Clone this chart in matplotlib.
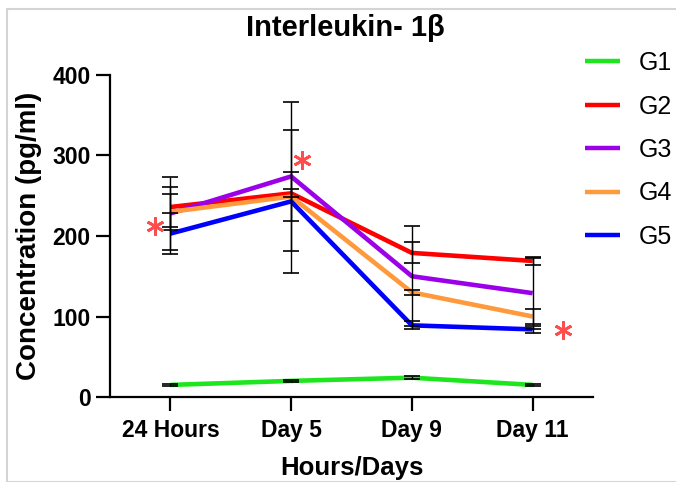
import matplotlib
matplotlib.use("Agg")
import matplotlib.pyplot as plt
from matplotlib.patches import Rectangle

plt.rcParams['font.family'] = ['Liberation Sans', 'DejaVu Sans']

# data
times = ["24 Hours", "Day 5", "Day 9", "Day 11"]
groups = ["G1", "G2", "G3", "G4", "G5"]
colors = ["#1ee61e", "#ff0000", "#9b00e8", "#ff9a3c", "#0000ff"]

g1 = [15, 20, 24, 15]
g2 = [236, 253, 179, 169]
g3 = [228, 274, 150, 129]
g4 = [230, 249, 130, 100]
g5 = [203, 243, 89, 84]

g1_err = [1.5, 1.5, 2, 1.5]
g2_err = [25, 5, 13, 5]
g3_err = [45, 93, 62, 44]
g4_err = [22, 30, 3, 9]
g5_err = [25, 89, 5, 4]

# significance asterisks (x in category units, y in pg/ml)
sig_x = [-0.13, 1.09, 3.25]
sig_y = [212, 294, 83]

means = [g1, g2, g3, g4, g5]
errs = [g1_err, g2_err, g3_err, g4_err, g5_err]

fig = plt.figure(figsize=(6.76, 4.82), dpi=100)
ax = fig.add_axes([110/676, 85/482, 483/676, 322/482])

x = list(range(len(times)))
for name, c, m, e in zip(groups, colors, means, errs):
    ax.plot(x, m, color=c, lw=3.3, label=name, zorder=2, solid_capstyle='butt')
    ax.errorbar(x, m, yerr=e, fmt='none', ecolor='black', elinewidth=1.0,
                capsize=6, capthick=1.2, zorder=3)

ax.plot(sig_x, sig_y, ls='none', marker=(6, 2, 0), ms=13, mew=2.0,
        color='#ff4d4d', zorder=4)

ax.set_xlim(-0.5, 3.5)
ax.set_ylim(0, 400)
ax.set_yticks([0, 100, 200, 300, 400])
ax.set_xticks(x)
ax.set_xticklabels(times)

for s in ['top', 'right']:
    ax.spines[s].set_visible(False)
for s in ['left', 'bottom']:
    ax.spines[s].set_linewidth(1.6)
ax.tick_params(axis='both', length=10, width=1.6, labelsize=16.5, pad=4)
ax.tick_params(axis='x', pad=6)
for lab in ax.get_xticklabels() + ax.get_yticklabels():
    lab.set_fontweight('bold')

ax.set_xlabel("Hours/Days", fontsize=18.5, fontweight='bold', labelpad=10)
ax.set_ylabel("Concentration (pg/ml)", fontsize=20, fontweight='bold', labelpad=7)

fig.text(345/676, 1 - 28/482, "Interleukin- 1\u03b2", ha='center', va='center',
         fontsize=21, fontweight='bold')

leg = ax.legend(loc='upper left', bbox_to_anchor=(585/676, 1 - 51/482),
                bbox_transform=fig.transFigure, frameon=False, fontsize=18,
                handlelength=1.4, handletextpad=0.75, labelspacing=0.78,
                borderpad=0, borderaxespad=0)
for h in leg.get_lines():
    h.set_linewidth(3.2)

# light grey frame around the original figure
fig.patches.append(Rectangle((7/676, 0), 1, 1 - 9/482, transform=fig.transFigure,
                             fill=False, edgecolor='#d4d4d4', lw=1.5))

fig.savefig("out.png", dpi=100)
